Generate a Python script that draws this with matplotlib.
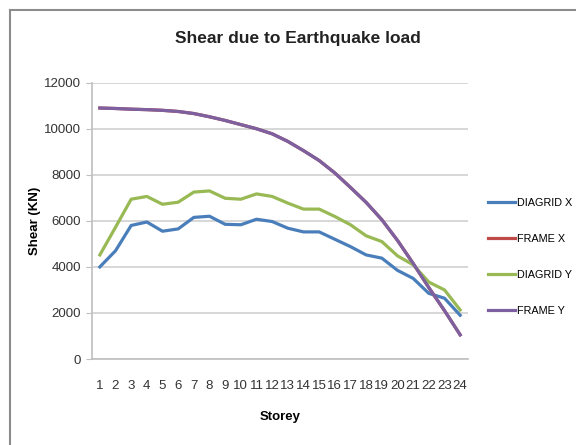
import matplotlib.pyplot as plt
from matplotlib.lines import Line2D

storey = list(range(1, 25))
diagrid_x = [4000, 4700, 5800, 5950, 5550, 5650, 6150, 6200, 5850, 5830, 6070, 5970,
             5680, 5520, 5520, 5200, 4880, 4520, 4380, 3850, 3500, 2850, 2640, 1900]
frame_x = [10900, 10880, 10850, 10830, 10800, 10750, 10660, 10520, 10360, 10180, 10000, 9780,
           9450, 9050, 8620, 8080, 7450, 6800, 6050, 5150, 4150, 3100, 2100, 1050]
diagrid_y = [4520, 5720, 6940, 7060, 6720, 6810, 7250, 7300, 6980, 6940, 7170, 7060,
             6770, 6510, 6510, 6190, 5830, 5350, 5100, 4480, 4090, 3340, 3000, 2130]
frame_y = list(frame_x)

yticks = [0, 2000, 4000, 6000, 8000, 10000, 12000]

plt.rcParams['font.family'] = ['Liberation Sans', 'DejaVu Sans']

fig = plt.figure(figsize=(5.76, 4.45), dpi=100)
ax = fig.add_axes([92/576, 1 - 359/445, 376/576, (359 - 82.7)/445])

lw = 2.3
ax.plot(storey, diagrid_x, color='#4A7EBB', lw=lw, label='DIAGRID X')
ax.plot(storey, frame_x, color='#BE4B48', lw=lw, label='FRAME X')
ax.plot(storey, diagrid_y, color='#98B954', lw=lw, label='DIAGRID Y')
ax.plot(storey, frame_y, color='#7D60A0', lw=lw, label='FRAME Y')

ax.set_xlim(0.5, 24.5)
ax.set_ylim(0, 12000)
ax.set_yticks(yticks)
ax.set_yticklabels([str(v) for v in yticks])
ax.set_xticks(storey)
ax.set_xticklabels([str(s) for s in storey])
ax.grid(axis='y', color='#D4D4D4', lw=1.3)
ax.set_axisbelow(True)
for side in ['top', 'right']:
    ax.spines[side].set_visible(False)
for side in ['left', 'bottom']:
    ax.spines[side].set_color('#BFBFBF')
    ax.spines[side].set_linewidth(1.2)
ax.tick_params(axis='y', length=4, color='#BFBFBF', labelsize=9.5, labelcolor='#333333', pad=4)
ax.tick_params(axis='x', length=0, labelsize=9.5, labelcolor='#333333', pad=15)

ax.set_xlabel('Storey', fontsize=9.5, fontweight='bold', labelpad=14)
ax.set_ylabel('Shear (KN)', fontsize=9.5, fontweight='bold', labelpad=2)

fig.text(298/576, 1 - 39/445, 'Shear due to Earthquake load', ha='center', va='center',
         fontsize=12.5, fontweight='bold', color='#222222')

ax.legend(loc='upper left', bbox_to_anchor=(488/576, 1 - 197.5/445), bbox_transform=fig.transFigure,
          frameon=False, fontsize=7.8, handlelength=2.5, handletextpad=0.2,
          labelspacing=2.42, borderaxespad=0, borderpad=0)

# chart area border
fig.add_artist(Line2D([10/576, 1.01], [1 - 10/445] * 2, transform=fig.transFigure,
                      color='#8C8C8C', lw=1.5))
fig.add_artist(Line2D([10/576] * 2, [-0.01, 1 - 10/445], transform=fig.transFigure,
                      color='#8C8C8C', lw=1.5))

fig.savefig('out.png', dpi=100)
